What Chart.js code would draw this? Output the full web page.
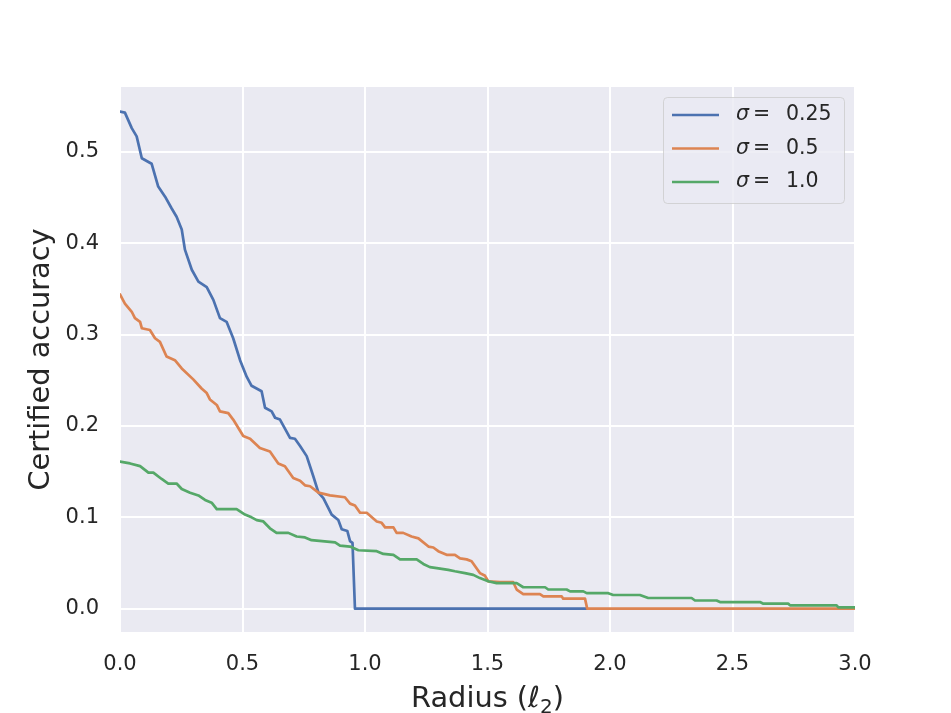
<!DOCTYPE html>
<html>
<head>
<meta charset="utf-8">
<script src="https://cdn.jsdelivr.net/npm/chart.js@4/dist/chart.umd.min.js"></script>
<style>
  body { margin: 0; background: #fff; }
  canvas { display: block; }
</style>
</head>
<body>
<canvas id="grafico" width="951" height="713"></canvas>
<script>
// valori
var labels = ['0.25', '0.5', '1.0'];
var colori = ['#4C72B0', '#DD8452', '#55A868'];

var raggio025 = [0, 0.02, 0.048, 0.068, 0.089, 0.129, 0.156, 0.184, 0.211, 0.231, 0.252, 0.265, 0.293, 0.320, 0.354, 0.381, 0.408, 0.435, 0.462, 0.490, 0.517, 0.537, 0.578, 0.592, 0.619, 0.633, 0.653, 0.694, 0.714, 0.735, 0.762, 0.789, 0.810, 0.830, 0.864, 0.891, 0.905, 0.928, 0.939, 0.949, 0.959, 1.905];
var acc025 = [0.544, 0.543, 0.526, 0.517, 0.493, 0.487, 0.462, 0.451, 0.438, 0.429, 0.415, 0.393, 0.371, 0.358, 0.352, 0.338, 0.318, 0.314, 0.296, 0.272, 0.254, 0.244, 0.238, 0.220, 0.216, 0.209, 0.207, 0.187, 0.186, 0.178, 0.167, 0.145, 0.127, 0.121, 0.103, 0.097, 0.087, 0.085, 0.074, 0.072, 0, 0];

var raggio05 = [0, 0.02, 0.048, 0.061, 0.082, 0.089, 0.122, 0.143, 0.163, 0.190, 0.224, 0.252, 0.299, 0.333, 0.354, 0.367, 0.395, 0.408, 0.442, 0.462, 0.503, 0.531, 0.571, 0.612, 0.646, 0.673, 0.707, 0.735, 0.755, 0.776, 0.810, 0.857, 0.918, 0.939, 0.959, 0.980, 1.007, 1.048, 1.068, 1.082, 1.116, 1.129, 1.156, 1.190, 1.218, 1.259, 1.279, 1.299, 1.333, 1.367, 1.388, 1.415, 1.435, 1.469, 1.490, 1.503, 1.551, 1.605, 1.619, 1.646, 1.714, 1.728, 1.803, 1.809, 1.898, 1.907, 3.0];
var acc05 = [0.344, 0.334, 0.325, 0.318, 0.314, 0.307, 0.305, 0.296, 0.292, 0.276, 0.272, 0.263, 0.251, 0.241, 0.236, 0.229, 0.223, 0.216, 0.214, 0.207, 0.189, 0.186, 0.176, 0.172, 0.159, 0.156, 0.143, 0.140, 0.135, 0.134, 0.127, 0.124, 0.122, 0.115, 0.113, 0.105, 0.105, 0.0955, 0.094, 0.089, 0.089, 0.083, 0.083, 0.079, 0.077, 0.068, 0.067, 0.063, 0.059, 0.059, 0.055, 0.054, 0.052, 0.039, 0.036, 0.030, 0.029, 0.029, 0.021, 0.016, 0.016, 0.0135, 0.0135, 0.011, 0.011, 0, 0];

var raggio10 = [0, 0.041, 0.082, 0.116, 0.136, 0.170, 0.197, 0.231, 0.252, 0.286, 0.320, 0.347, 0.374, 0.395, 0.476, 0.510, 0.537, 0.558, 0.585, 0.612, 0.639, 0.687, 0.721, 0.755, 0.782, 0.878, 0.898, 0.939, 0.973, 1.048, 1.075, 1.116, 1.143, 1.211, 1.238, 1.265, 1.293, 1.340, 1.367, 1.408, 1.442, 1.469, 1.503, 1.537, 1.619, 1.646, 1.735, 1.748, 1.823, 1.837, 1.891, 1.905, 1.993, 2.013, 2.122, 2.156, 2.333, 2.347, 2.435, 2.449, 2.612, 2.626, 2.728, 2.735, 2.925, 2.932, 3.0];
var acc10 = [0.161, 0.159, 0.156, 0.149, 0.149, 0.142, 0.137, 0.137, 0.131, 0.127, 0.124, 0.119, 0.116, 0.109, 0.109, 0.103, 0.100, 0.097, 0.0955, 0.088, 0.083, 0.083, 0.079, 0.078, 0.075, 0.0725, 0.069, 0.068, 0.064, 0.063, 0.060, 0.059, 0.054, 0.054, 0.049, 0.0455, 0.0445, 0.0425, 0.041, 0.039, 0.037, 0.0335, 0.030, 0.028, 0.028, 0.0235, 0.0235, 0.021, 0.021, 0.019, 0.019, 0.017, 0.017, 0.015, 0.015, 0.0117, 0.0117, 0.009, 0.009, 0.0073, 0.0073, 0.0055, 0.0055, 0.0036, 0.0036, 0.0015, 0.0015];

var tickX = [0, 0.5, 1.0, 1.5, 2.0, 2.5, 3.0];
var tickY = [0, 0.1, 0.2, 0.3, 0.4, 0.5];

function punti(xs, ys) {
  var out = [];
  for (var i = 0; i < xs.length; i++) {
    out.push({x: xs[i], y: ys[i]});
  }
  return out;
}

var serie = [punti(raggio025, acc025), punti(raggio05, acc05), punti(raggio10, acc10)];

var testo = '#262626';
var font = 'DejaVu Sans';

var sfondoPlot = {
  id: 'sfondoPlot',
  beforeDraw: function(chart) {
    var ctx = chart.ctx;
    var a = chart.chartArea;
    ctx.save();
    ctx.fillStyle = '#EAEAF2';
    ctx.fillRect(a.left, a.top, a.right - a.left, a.bottom - a.top);
    ctx.restore();
  }
};

// titolo asse x con il pedice vero, come nel mathtext
var titoloX = {
  id: 'titoloX',
  afterDraw: function(chart) {
    var ctx = chart.ctx;
    var a = chart.chartArea;
    var pezzi = [
      {t: 'Radius (', f: '28.8px "' + font + '"', dy: 0},
      {t: 'ℓ', f: 'italic 28.8px "' + font + '"', dy: 0},
      {t: '2', f: '20px "' + font + '"', dy: 6},
      {t: ')', f: '28.8px "' + font + '"', dy: 0}
    ];
    ctx.save();
    ctx.fillStyle = testo;
    ctx.textBaseline = 'alphabetic';
    ctx.textAlign = 'left';
    var tot = 0;
    pezzi.forEach(function(p) { ctx.font = p.f; p.w = ctx.measureText(p.t).width; tot += p.w; });
    var x = (a.left + a.right) / 2 - tot / 2;
    var base = 706.5;
    pezzi.forEach(function(p) {
      ctx.font = p.f;
      ctx.fillText(p.t, x, base + p.dy);
      x += p.w;
    });
    ctx.restore();
  }
};

// legenda disegnata a mano, come quella di seaborn
var legenda = {
  id: 'legenda',
  afterDraw: function(chart) {
    var ctx = chart.ctx;
    var a = chart.chartArea;
    var w = 181, h = 106;
    var x0 = a.right - 11 - w;
    var y0 = a.top + 10;
    ctx.save();
    ctx.beginPath();
    ctx.roundRect(x0 + 0.5, y0 + 0.5, w, h, 4);
    ctx.fillStyle = 'rgba(234,234,242,0.8)';
    ctx.fill();
    ctx.lineWidth = 1;
    ctx.strokeStyle = 'rgba(204,204,204,0.8)';
    ctx.stroke();

    for (var i = 0; i < labels.length; i++) {
      var y = y0 + 18 + i * 33.5;
      ctx.beginPath();
      ctx.moveTo(x0 + 9, y);
      ctx.lineTo(x0 + 56, y);
      ctx.strokeStyle = colori[i];
      ctx.lineWidth = 2.7;
      ctx.stroke();

      ctx.fillStyle = testo;
      ctx.textBaseline = 'middle';
      ctx.font = 'italic 20.5px "' + font + '"';
      ctx.fillText('σ', x0 + 73, y);
      ctx.font = '20.5px "' + font + '"';
      ctx.fillText('=', x0 + 90, y);
      ctx.fillText(labels[i], x0 + 123, y);
    }
    ctx.restore();
  }
};

var grafico = new Chart(document.getElementById('grafico'), {
  type: 'line',
  data: {
    datasets: [{
      label: 'σ = ' + labels[0],
      data: serie[0],
      borderColor: colori[0],
      order: 2
    }, {
      label: 'σ = ' + labels[1],
      data: serie[1],
      borderColor: colori[1],
      order: 1
    }, {
      label: 'σ = ' + labels[2],
      data: serie[2],
      borderColor: colori[2],
      order: 0
    }]
  },
  options: {
    responsive: false,
    animation: false,
    devicePixelRatio: 1,
    layout: { padding: { left: 0, top: 87, right: 96, bottom: 0 } },
    elements: {
      line: { borderWidth: 2.7, tension: 0, fill: false, borderJoinStyle: 'round', borderCapStyle: 'round' },
      point: { radius: 0, hoverRadius: 0 }
    },
    plugins: {
      legend: { display: false },
      tooltip: { enabled: false }
    },
    scales: {
      x: {
        type: 'linear',
        min: 0,
        max: 3,
        afterBuildTicks: function(scale) {
          scale.ticks = tickX.map(function(v) { return {value: v}; });
        },
        afterFit: function(scale) { scale.height = 81; },
        grid: { color: '#ffffff', lineWidth: 2, drawTicks: false },
        border: { display: false },
        ticks: {
          padding: 20,
          color: testo,
          font: { family: font, size: 21 },
          maxRotation: 0,
          callback: function(v) { return v.toFixed(1); }
        },
        title: { display: false }
      },
      y: {
        type: 'linear',
        min: -0.0255,
        max: 0.571,
        afterBuildTicks: function(scale) {
          scale.ticks = tickY.map(function(v) { return {value: v}; });
        },
        afterFit: function(scale) { scale.width = 120; },
        grid: { color: '#ffffff', lineWidth: 2, drawTicks: false },
        border: { display: false },
        ticks: {
          padding: 21,
          color: testo,
          font: { family: font, size: 21 },
          callback: function(v) { return v.toFixed(1); }
        },
        title: {
          display: true,
          text: 'Certified accuracy',
          color: testo,
          font: { family: font, size: 28.8, lineHeight: 1 },
          padding: { top: 27, bottom: 0 }
        }
      }
    }
  },
  plugins: [sfondoPlot, titoloX, legenda]
});

console.log(grafico.chartArea);
</script>
</body>
</html>
